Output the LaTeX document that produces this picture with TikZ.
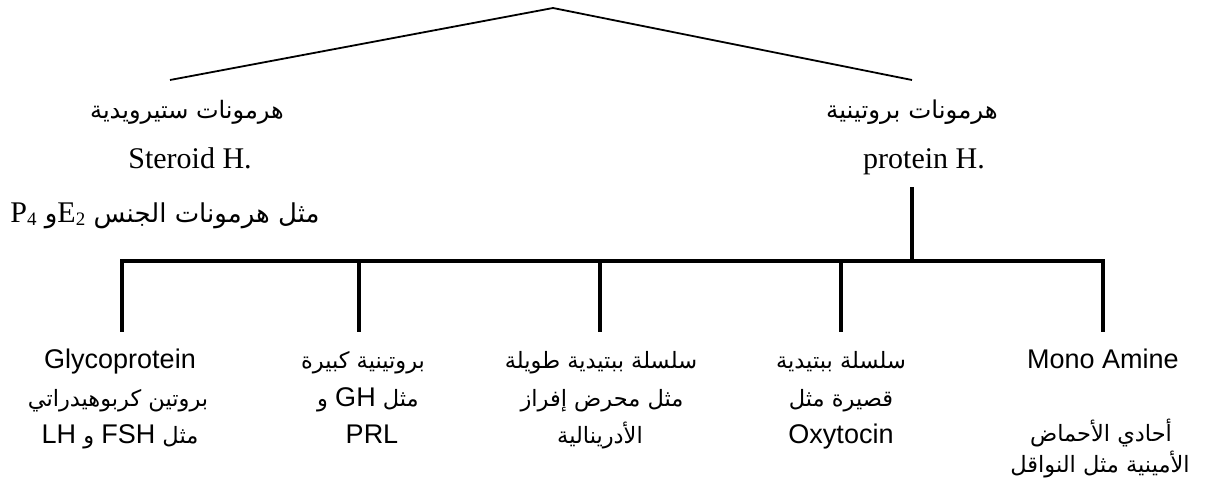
\documentclass[tikz,border=0pt]{standalone}
\usepackage{fontspec}
\setmainfont{Liberation Serif}
\newfontfamily\arsf[Script=Arabic]{DejaVu Sans}
\newfontfamily\lsans{Liberation Sans}
\TeXXeTstate=1
\newcommand\AR[2][22.5]{{\arsf\fontsize{#1}{#1}\selectfont\beginR #2\endR}}
\newcommand\LS[1]{{\lsans\fontsize{27}{27}\selectfont\beginL #1\endL}}
\newcommand\LR[1]{{\rmfamily\fontsize{30}{30}\selectfont\beginL #1\endL}}
\newcommand\sub[1]{\raisebox{-0.25ex}{\fontsize{19}{19}\selectfont #1}}
\tikzset{
  toplat/.style={font=\fontsize{30}{30}\selectfont, inner sep=0pt, anchor=base},
  botlat/.style={font=\lsans\fontsize{27}{27}\selectfont, inner sep=0pt, anchor=base},
  slim/.style={line width=1.8pt},
  heavy/.style={line width=4pt}
}
\begin{document}
\begin{tikzpicture}[x=1pt,y=-1pt]
\useasboundingbox (0,0) rectangle (1210,480);
% top connectors
\coordinate (apex) at (553,8);
\coordinate (lend) at (170,80);
\coordinate (rend) at (912,80);
\draw[slim] (lend) -- (apex) -- (rend);
% left branch
\node[toplat] (st1) at (187,118) {\AR[24]{هرمونات ستيرويدية}};
\node[toplat] (st2) at (190,168) {Steroid H.};
\node[toplat] (st3) at (165,222) {\AR[26]{مثل هرمونات الجنس \LR{E\sub{2}}و \LR{P\sub{4}}}};
% right branch
\node[toplat] (pr1) at (912,118) {\AR[24.5]{هرمونات بروتينية}};
\node[toplat] (pr2) at (924,168) {protein H.};
\coordinate (ptop) at (912,187);
\coordinate (pbar) at (912,261);
\draw[heavy] (ptop) -- (pbar);
% bar and drops
\coordinate (b1) at (122,261);
\coordinate (b2) at (359,261);
\coordinate (b3) at (600,261);
\coordinate (b4) at (841,261);
\coordinate (b5) at (1103,261);
\draw[heavy] ([xshift=-2pt]b1) -- ([xshift=2pt]b5);
\foreach \i in {1,...,5}
  \draw[heavy] (b\i) -- (b\i |- 0,332);
% column 1
\node[botlat] (c1a) at (120,368) {Glycoprotein};
\node[botlat] (c1b) at (118,406) {\AR{بروتين كربوهيدراتي}};
\node[botlat] (c1c) at (120,443) {\AR{مثل \LS{FSH} و \LS{LH}}};
% column 2
\node[botlat] (c2a) at (363,368) {\AR{بروتينية كبيرة}};
\node[botlat] (c2b) at (368,406) {\AR{مثل \LS{GH} و}};
\node[botlat] (c2c) at (372,443) {PRL};
% column 3
\node[botlat] (c3a) at (601,368) {\AR{سلسلة ببتيدية طويلة}};
\node[botlat] (c3b) at (602,406) {\AR{مثل محرض إفراز}};
\node[botlat] (c3c) at (600,443) {\AR{الأدرينالية}};
% column 4
\node[botlat] (c4a) at (841,368) {\AR{سلسلة ببتيدية}};
\node[botlat] (c4b) at (841,406) {\AR{قصيرة مثل}};
\node[botlat] (c4c) at (841,443) {Oxytocin};
% column 5
\node[botlat] (c5a) at (1103,368) {Mono Amine};
\node[botlat] (c5b) at (1101,441) {\AR{أحادي الأحماض}};
\node[botlat] (c5c) at (1100,472) {\AR{الأمينية مثل النواقل}};
\end{tikzpicture}
\end{document}
